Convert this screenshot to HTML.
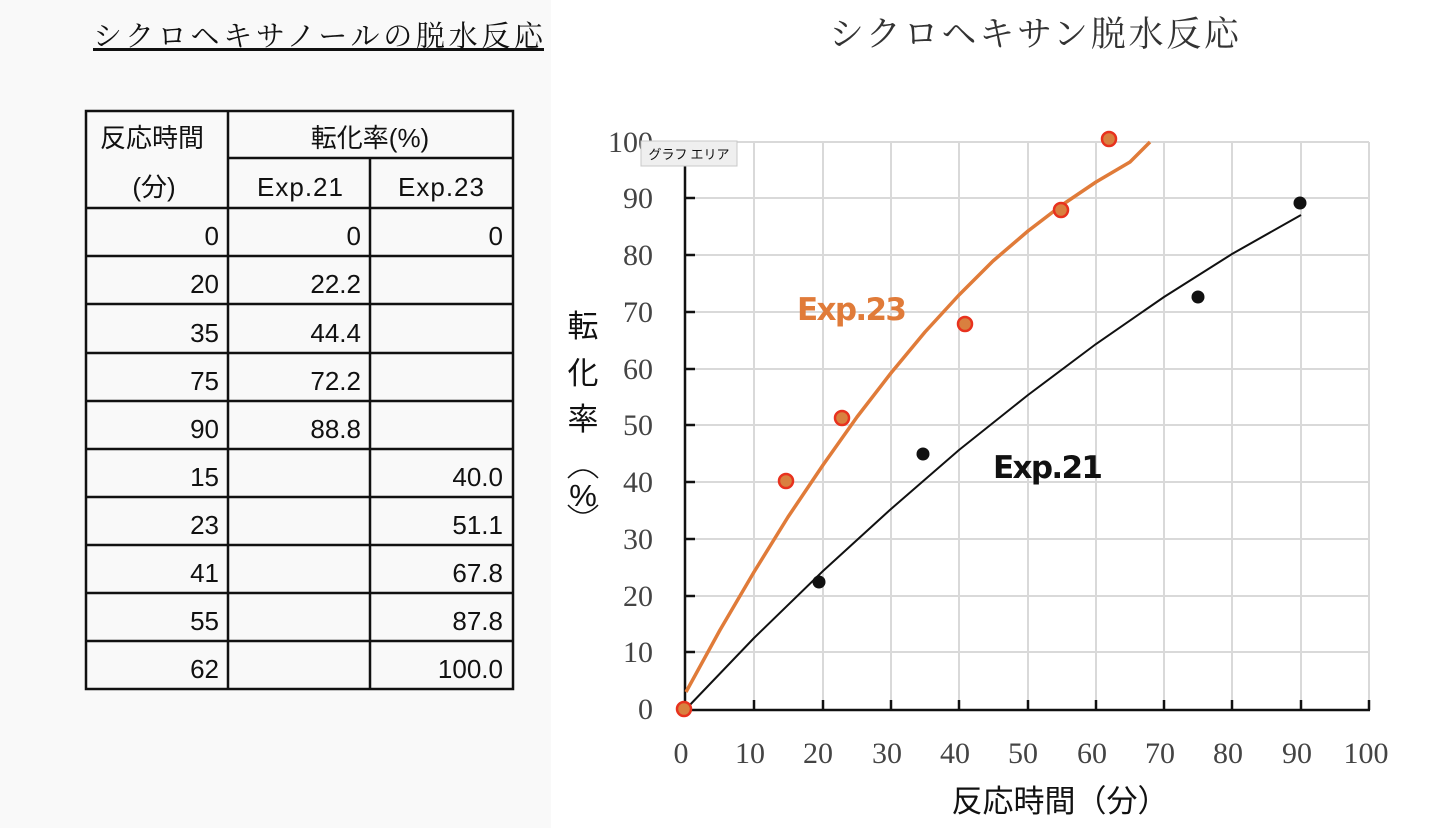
<!DOCTYPE html>
<html><head><meta charset="utf-8"><style>
body{margin:0;width:1438px;height:828px;overflow:hidden;background:#fff;}
svg{display:block}
</style></head><body>
<svg width="1438" height="828" xmlns="http://www.w3.org/2000/svg">
<rect x="0" y="0" width="551" height="828" fill="#f9f9f9"/>
<g font-family="'Liberation Sans','Noto Sans CJK JP',sans-serif" fill="#111">
<text x="318" y="46" font-size="29" text-anchor="middle" textLength="450" font-family="'Noto Serif CJK SC','Noto Sans CJK JP',serif">シクロヘキサノールの脱水反応</text>
<rect x="93" y="48" width="451" height="3" fill="#111"/>
<g stroke="#111" stroke-width="2.5" fill="none">
<rect x="86" y="111" width="427" height="578"/>
<line x1="228" y1="111" x2="228" y2="689"/>
<line x1="370" y1="158" x2="370" y2="689"/>
<line x1="228" y1="158" x2="513" y2="158"/>
<line x1="86" y1="208" x2="513" y2="208"/>
<line x1="86" y1="256" x2="513" y2="256"/>
<line x1="86" y1="304" x2="513" y2="304"/>
<line x1="86" y1="353" x2="513" y2="353"/>
<line x1="86" y1="401" x2="513" y2="401"/>
<line x1="86" y1="449" x2="513" y2="449"/>
<line x1="86" y1="497" x2="513" y2="497"/>
<line x1="86" y1="545" x2="513" y2="545"/>
<line x1="86" y1="593" x2="513" y2="593"/>
<line x1="86" y1="641" x2="513" y2="641"/>
</g>
<g font-size="26" fill="#111">
<text x="152" y="147" text-anchor="middle">反応時間</text>
<text x="154" y="196" text-anchor="middle">(分)</text>
<text x="370" y="147" text-anchor="middle">転化率(%)</text>
<text x="300" y="196" text-anchor="middle" textLength="86">Exp.21</text>
<text x="441" y="196" text-anchor="middle" textLength="86">Exp.23</text>
<g text-anchor="end">
<text x="219" y="245">0</text><text x="361" y="245">0</text><text x="503" y="245">0</text>
<text x="219" y="293">20</text><text x="361" y="293">22.2</text>
<text x="219" y="342">35</text><text x="361" y="342">44.4</text>
<text x="219" y="390">75</text><text x="361" y="390">72.2</text>
<text x="219" y="438">90</text><text x="361" y="438">88.8</text>
<text x="219" y="486">15</text><text x="503" y="486">40.0</text>
<text x="219" y="534">23</text><text x="503" y="534">51.1</text>
<text x="219" y="582">41</text><text x="503" y="582">67.8</text>
<text x="219" y="630">55</text><text x="503" y="630">87.8</text>
<text x="219" y="678">62</text><text x="503" y="678">100.0</text>
</g></g></g>

<text x="1034" y="46" font-size="35" text-anchor="middle" fill="#333" textLength="410" font-family="'Noto Serif CJK SC','Noto Sans CJK JP',serif">シクロヘキサン脱水反応</text>

<g stroke="#d9d9d9" stroke-width="2">
<line x1="754" y1="142" x2="754" y2="709"/><line x1="823" y1="142" x2="823" y2="709"/>
<line x1="891" y1="142" x2="891" y2="709"/><line x1="959" y1="142" x2="959" y2="709"/>
<line x1="1028" y1="142" x2="1028" y2="709"/><line x1="1096" y1="142" x2="1096" y2="709"/>
<line x1="1164" y1="142" x2="1164" y2="709"/><line x1="1232" y1="142" x2="1232" y2="709"/>
<line x1="1301" y1="142" x2="1301" y2="709"/><line x1="1369" y1="142" x2="1369" y2="709"/>
<line x1="686" y1="142" x2="1369" y2="142"/><line x1="686" y1="198" x2="1369" y2="198"/>
<line x1="686" y1="255" x2="1369" y2="255"/><line x1="686" y1="312" x2="1369" y2="312"/>
<line x1="686" y1="369" x2="1369" y2="369"/><line x1="686" y1="425" x2="1369" y2="425"/>
<line x1="686" y1="482" x2="1369" y2="482"/><line x1="686" y1="539" x2="1369" y2="539"/>
<line x1="686" y1="596" x2="1369" y2="596"/><line x1="686" y1="652" x2="1369" y2="652"/>
</g>
<g stroke="#111" stroke-width="2.5">
<line x1="685" y1="142" x2="685" y2="710"/><line x1="684" y1="710" x2="1370" y2="710"/>
<line x1="685" y1="198" x2="695" y2="198"/><line x1="685" y1="255" x2="695" y2="255"/>
<line x1="685" y1="312" x2="695" y2="312"/><line x1="685" y1="369" x2="695" y2="369"/>
<line x1="685" y1="425" x2="695" y2="425"/><line x1="685" y1="482" x2="695" y2="482"/>
<line x1="685" y1="539" x2="695" y2="539"/><line x1="685" y1="596" x2="695" y2="596"/>
<line x1="685" y1="652" x2="695" y2="652"/>
<line x1="754" y1="700" x2="754" y2="710"/><line x1="823" y1="700" x2="823" y2="710"/>
<line x1="891" y1="700" x2="891" y2="710"/><line x1="959" y1="700" x2="959" y2="710"/>
<line x1="1028" y1="700" x2="1028" y2="710"/><line x1="1096" y1="700" x2="1096" y2="710"/>
<line x1="1164" y1="700" x2="1164" y2="710"/><line x1="1232" y1="700" x2="1232" y2="710"/>
<line x1="1301" y1="700" x2="1301" y2="710"/><line x1="1369" y1="700" x2="1369" y2="710"/>
</g>
<g font-family="'Liberation Serif',serif" font-size="30" fill="#444" text-anchor="end">
<text x="653" y="152">100</text><text x="653" y="208">90</text><text x="653" y="265">80</text>
<text x="653" y="322">70</text><text x="653" y="379">60</text><text x="653" y="435">50</text>
<text x="653" y="492">40</text><text x="653" y="549">30</text><text x="653" y="606">20</text>
<text x="653" y="662">10</text><text x="653" y="719">0</text>
</g>
<g font-family="'Liberation Serif',serif" font-size="30" fill="#444" text-anchor="middle">
<text x="681" y="763">0</text><text x="750" y="763">10</text><text x="818" y="763">20</text>
<text x="887" y="763">30</text><text x="955" y="763">40</text><text x="1023" y="763">50</text>
<text x="1092" y="763">60</text><text x="1160" y="763">70</text><text x="1228" y="763">80</text>
<text x="1297" y="763">90</text><text x="1366" y="763">100</text>
</g>
<g font-family="'Liberation Sans','Noto Sans CJK JP',sans-serif" font-size="31" fill="#111" text-anchor="middle">
<text x="1060" y="812">反応時間（分）</text>
<text x="583" y="337">転</text><text x="583" y="384">化</text><text x="583" y="430">率</text>
<text x="583" y="506">%</text>
</g>
<path d="M568 478 Q583 462 598 478 M568 505 Q583 521 598 505" stroke="#111" stroke-width="1.5" fill="none"/>

<polyline fill="none" stroke="#111" stroke-width="2" points="686,709 754,638 823,571 891,509 959,450 1028,395 1096,344 1164,297 1232,254 1301,215"/>
<polyline fill="none" stroke="#e07b39" stroke-width="3.5" stroke-linejoin="round" points="686,692 720,630 754,572 788,517 823,465 857,417 891,373 925,332 959,295 993,261 1028,231 1062,205 1096,182 1130,162 1150,142"/>

<g fill="#111">
<circle cx="819" cy="582" r="6.5"/><circle cx="923" cy="454" r="6.5"/>
<circle cx="1198" cy="297" r="6.5"/><circle cx="1300" cy="203" r="6.5"/>
</g>
<g fill="#d9803f" stroke="#e8321e" stroke-width="2.5">
<circle cx="684" cy="709" r="7"/><circle cx="786" cy="481" r="7"/>
<circle cx="842" cy="418" r="7"/><circle cx="965" cy="324" r="7"/>
<circle cx="1061" cy="210" r="7"/><circle cx="1109" cy="139" r="7"/>
</g>
<g font-family="'DejaVu Sans','Liberation Sans',sans-serif" font-weight="bold" font-size="31">
<text x="797" y="320" fill="#e07b39" textLength="110">Exp.23</text>
<text x="993" y="478" fill="#111" textLength="110">Exp.21</text>
</g>
<rect x="641" y="141" width="96" height="25" fill="#efefef" stroke="#c8c8c8"/>
<text x="689" y="159" font-size="13" text-anchor="middle" fill="#111" font-family="'Noto Sans CJK JP',sans-serif">グラフ エリア</text>
</svg>
</body></html>
